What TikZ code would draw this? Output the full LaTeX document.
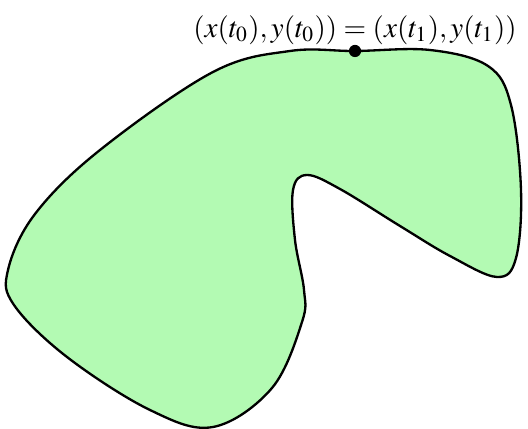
\documentclass[tikz,border=0pt]{standalone}
\usepackage{mathptmx}
\usetikzlibrary{positioning}
\definecolor{RegionFill}{RGB}{179,250,179}

\begin{document}
\begin{tikzpicture}[x=0.344pt,y=-0.344pt]
  \useasboundingbox (0,0) rectangle (528,429);
  \draw[line width=0.8pt,fill=RegionFill] plot[smooth cycle,tension=0.6] coordinates {
    (355,51) (430,50) (488,66) (511,105) (521,190) (516,258) (497,277)
    (450,256) (400,226) (340,189) (307,175) (293,190) (295,240) (304,290)
    (302,322) (272,388) (213,427) (150,410) (67,357) (14,305) (8,270)
    (35,214) (100,150) (213,72) (290,51)};
  \fill (355,51) circle (2.1pt);
  \node[coordinate] (start) at (355,51) {};
  \node[above=1pt of start,inner sep=1pt] (label)
    {$(x(t_0),y(t_0))=(x(t_1),y(t_1))$};
\end{tikzpicture}
\end{document}
